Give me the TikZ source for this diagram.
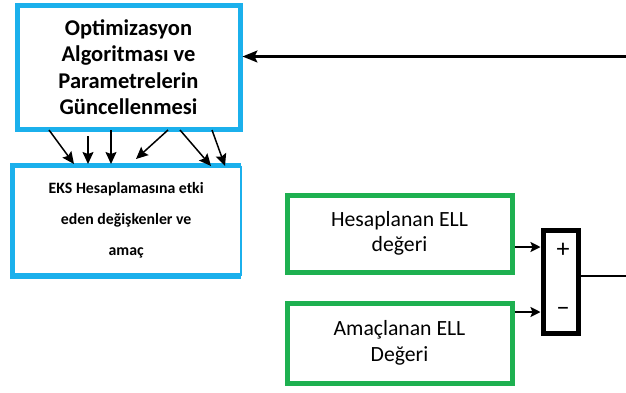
\documentclass[tikz,border=0pt]{standalone}
\usepackage{fontspec}
\setmainfont{Carlito}
\usetikzlibrary{arrows.meta}
\definecolor{boxblue}{RGB}{27,176,236}
\definecolor{boxgreen}{RGB}{30,176,80}
\begin{document}
\begin{tikzpicture}[x=1pt,y=-1pt,
  bluebox/.style={draw=boxblue,line width=5pt,fill=white,inner sep=0pt},
  greenbox/.style={draw=boxgreen,line width=5pt,fill=white,inner sep=0pt},
  sumbox/.style={draw=black,line width=5.5pt,fill=white,inner sep=0pt},
  flow/.style={-{Stealth[length=12pt,width=11pt,inset=2pt]},line width=1.5pt},
  inflow/.style={-{Stealth[length=10pt,width=10pt,inset=2pt]},line width=2pt},
  mainline/.style={-{Stealth[length=15pt,width=12pt,inset=3pt]},line width=2.2pt}]
\useasboundingbox (0,0) rectangle (626,392);
% optimisation block
\node[bluebox,minimum width=223pt,minimum height=124pt,anchor=north west,
  align=center,font=\fontsize{22.5}{26.5}\selectfont\bfseries] (opt) at (14.5,2.5)
  {Optimizasyon\\Algoritması ve\\Parametrelerin\\Güncellenmesi};
% variables block: heavy border on three sides, light on the right
\node[minimum width=227pt,minimum height=110pt,anchor=north west,inner sep=0pt,
  fill=white,align=center,font=\fontsize{15.8}{31}\selectfont\bfseries] (eks) at (12.5,165.5)
  {EKS Hesaplamasına etki\\eden değişkenler ve\\amaç};
\draw[boxblue,line width=5.5pt] ([xshift=1pt]eks.north east) -- (eks.north west)
  -- (eks.south west) -- ([xshift=1pt]eks.south east);
\draw[boxblue,line width=2.5pt] ([xshift=1pt]eks.north east) -- ([xshift=1pt]eks.south east);
% ELL values
\node[greenbox,minimum width=225pt,minimum height=77pt,anchor=north west,
  align=center,font=\fontsize{21.7}{24.5}\selectfont] (hes) at (284.5,192.5)
  {Hesaplanan ELL\\değeri};
\node[greenbox,minimum width=225pt,minimum height=80pt,anchor=north west,
  align=center,font=\fontsize{21.7}{25.5}\selectfont] (ama) at (284.5,300.5)
  {Amaçlanan ELL\\Değeri};
% comparator
\node[sumbox,minimum width=35pt,minimum height=103pt,anchor=north west] (sum) at (540.5,227.5) {};
\node[font=\fontsize{26}{26}\selectfont] (plus) at (563,250) {+};
\node[font=\fontsize{26}{26}\selectfont] (minus) at (563,312) {−};
% connectors between the blocks
\coordinate (o1) at (49,130);  \coordinate (e1) at (74,164);
\coordinate (o2) at (88,136);  \coordinate (e2) at (88,164);
\coordinate (o3) at (111,130); \coordinate (e3) at (111,164);
\coordinate (o4) at (168,130); \coordinate (e4) at (136,159);
\coordinate (o5) at (180,130); \coordinate (e5) at (211,166);
\coordinate (o6) at (212,130); \coordinate (e6) at (225,166);
\foreach \i in {1,...,6} \draw[flow] (o\i) -- (e\i);
\draw[inflow] (hes.east |- 0,247) -- (sum.west |- 0,247);
\draw[inflow] (ama.east |- 0,312) -- (sum.west |- 0,312);
\coordinate (outR) at (626,276);
\draw[line width=1.6pt] (sum.east |- outR) -- (outR);
\coordinate (feed) at (626,56.5);
\draw[mainline] (feed) -- (opt.east |- feed);
\end{tikzpicture}
\end{document}
